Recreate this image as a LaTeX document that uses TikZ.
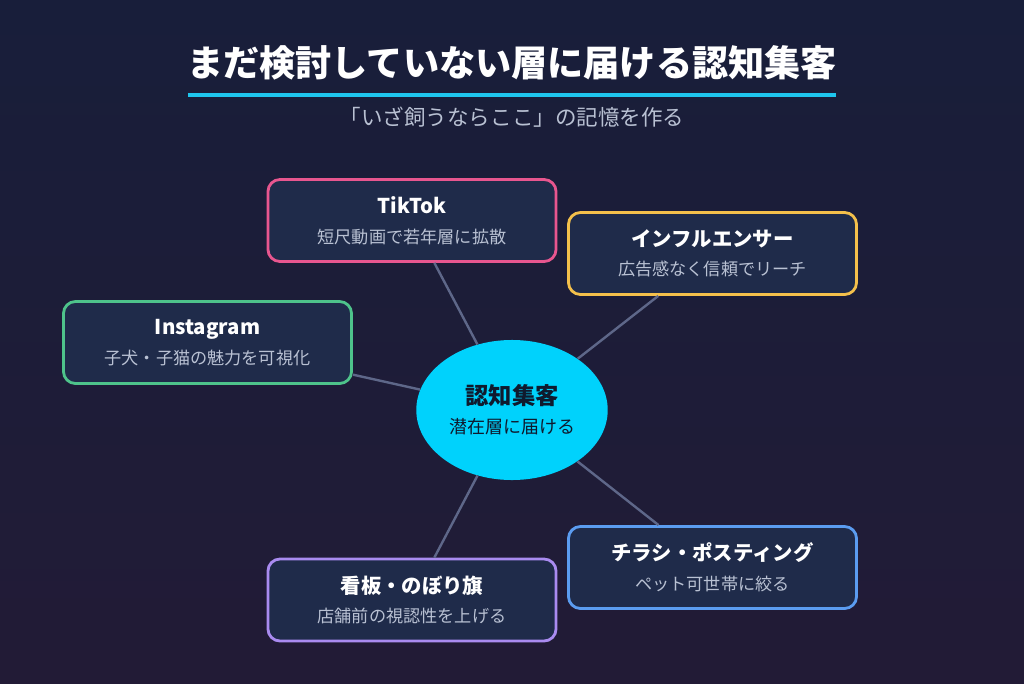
\documentclass[tikz,border=0pt]{standalone}
\usepackage{fontspec}
\setmainfont{Noto Sans CJK JP}
\usetikzlibrary{shapes.geometric, positioning}

\definecolor{bgtop}{HTML}{181E3A}
\definecolor{bgbottom}{HTML}{221B36}
\definecolor{boxfill}{HTML}{1F2B4A}
\definecolor{subgray}{HTML}{B9C1D3}
\definecolor{linkgray}{HTML}{5E6789}
\definecolor{hubcyan}{HTML}{00D2FC}
\definecolor{hubtext}{HTML}{0F1A2E}
\definecolor{rulecyan}{HTML}{1EC6EE}
\definecolor{tiktokpink}{HTML}{E8568F}
\definecolor{influyellow}{HTML}{F4C04B}
\definecolor{instagreen}{HTML}{4EC38B}
\definecolor{flyerblue}{HTML}{5B9CF0}
\definecolor{signpurple}{HTML}{A98BF0}

\begin{document}
\begin{tikzpicture}[x=0.025cm, y=-0.025cm,
    channel/.style={rectangle, rounded corners=0.3cm, minimum width=7.2cm, minimum height=2.05cm,
                    draw, line width=2pt, fill=boxfill, align=center, text=white,
                    font=\fontsize{12.2}{21}\selectfont},
    hub/.style={ellipse, minimum width=4.6cm, minimum height=3.5cm, fill=hubcyan,
                align=center, text=hubtext, font=\fontsize{12.8}{20.5}\selectfont},
    link/.style={line width=1.7pt, draw=linkgray},
    heading/.style={font=\fontsize{25.7}{32}\selectfont\bfseries, text=white},
    subheading/.style={font=\fontsize{15.3}{18}\selectfont, text=subgray}]

    % background
    \fill[top color=bgtop, bottom color=bgbottom] (0,0) rectangle (1024,683);
    \useasboundingbox (0,0) rectangle (1024,683);

    % Title (top)
    \node[heading] (title) at (512,63) {まだ検討していない層に届ける認知集客};
    \draw[rulecyan, line width=2.8pt] (188,95) -- (836,95);
    \node[subheading] (subtitle) at (512,117) {「いざ飼うならここ」の記憶を作る};

    % Hub (middle)
    \node[hub] (hub) at (512,410)
        {{\fontsize{16.6}{20.5}\selectfont\bfseries 認知集客}\\潜在層に届ける};

    % Channels
    \node[channel, draw=tiktokpink] (tiktok) at (412,220.5)
        {{\fontsize{14.5}{21}\selectfont\bfseries TikTok}\\{\color{subgray}短尺動画で若年層に拡散}};
    \node[channel, draw=influyellow] (influencer) at (712.5,253.5)
        {{\fontsize{14.5}{21}\selectfont\bfseries インフルエンサー}\\{\color{subgray}広告感なく信頼でリーチ}};
    \node[channel, draw=instagreen] (instagram) at (207.5,342.5)
        {{\fontsize{14.5}{21}\selectfont\bfseries Instagram}\\{\color{subgray}子犬・子猫の魅力を可視化}};
    \node[channel, draw=flyerblue] (flyer) at (712.5,567.5)
        {{\fontsize{14.5}{21}\selectfont\bfseries チラシ・ポスティング}\\{\color{subgray}ペット可世帯に絞る}};
    \node[channel, draw=signpurple] (signboard) at (412,600)
        {{\fontsize{14.5}{21}\selectfont\bfseries 看板・のぼり旗}\\{\color{subgray}店舗前の視認性を上げる}};

    % Connections
    \draw[link] (hub) -- (tiktok);
    \draw[link] (hub) -- (influencer);
    \draw[link] (hub) -- (instagram);
    \draw[link] (hub) -- (flyer);
    \draw[link] (hub) -- (signboard);

\end{tikzpicture}
\end{document}
